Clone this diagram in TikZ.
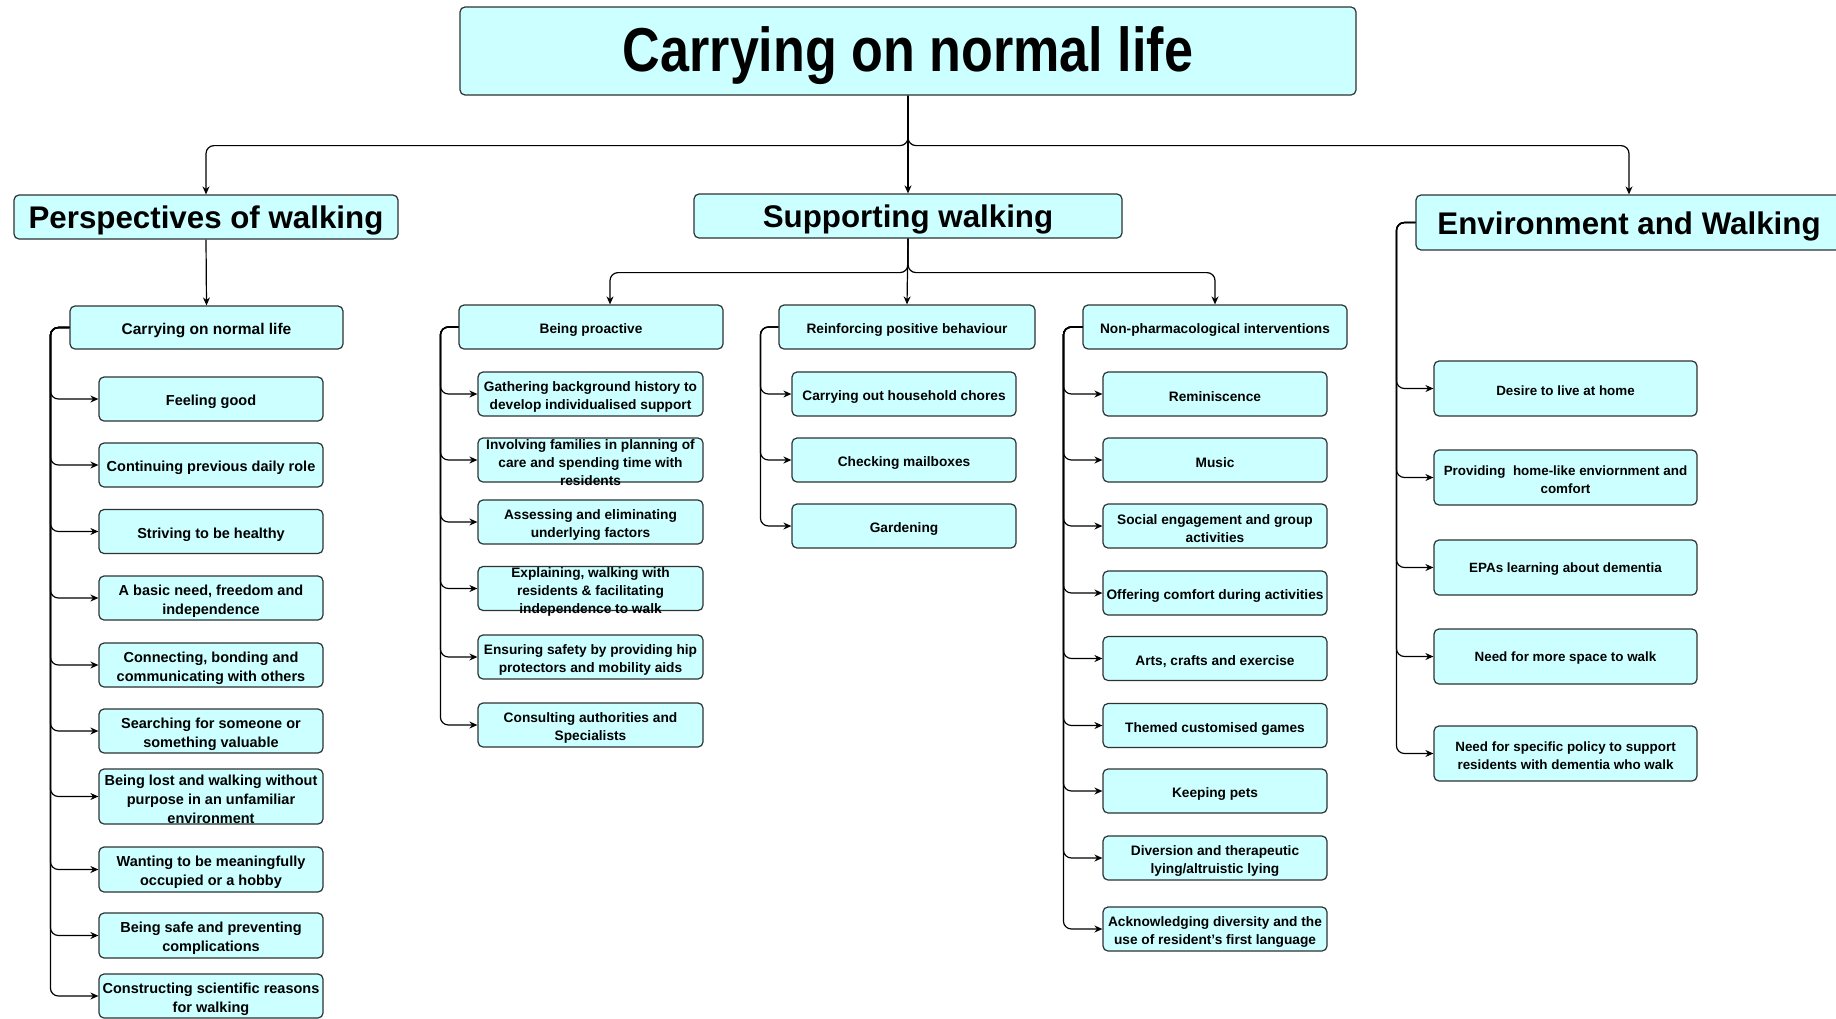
\documentclass[tikz,border=0pt]{standalone}
\usepackage{fontspec}
\setmainfont{Liberation Sans}
\newfontfamily\titlefont[FakeStretch=0.84]{Liberation Sans}
\usetikzlibrary{arrows.meta}
\definecolor{boxfill}{RGB}{204,255,255}
\definecolor{boxline}{RGB}{45,50,50}
\newcommand\rootfont{\titlefont\fontsize{62}{70}\selectfont\bfseries}
\newcommand\headfont{\fontsize{31.3}{35}\selectfont\bfseries}
\newcommand\subfont{\fontsize{15.5}{19}\selectfont\bfseries}
\newcommand\leafA{\fontsize{14.5}{19.2}\selectfont\bfseries}
\newcommand\leafB{\fontsize{13.7}{18}\selectfont\bfseries}
\newcommand\leafC{\fontsize{13.4}{18.2}\selectfont\bfseries}

\begin{document}
\begin{tikzpicture}[x=1pt,y=-1pt,
  box/.style={draw=boxline, fill=boxfill, rounded corners=5pt, line width=1.2pt, inner sep=0pt},
  head/.style={box, minimum height=44pt},
  sub/.style={box, minimum height=44pt},
  pleaf/.style={box, minimum width=224pt, minimum height=44pt},
  sleaf/.style={box, minimum width=224pt, minimum height=44pt},
  eleaf/.style={box, minimum width=263pt, minimum height=55pt},
  tRoot/.style={font=\rootfont, align=center, yshift=-5pt},
  tHead/.style={font=\headfont, align=center, yshift=-3.5pt},
  tSub/.style={font=\subfont, align=center, yshift=-3pt},
  tA/.style={font=\leafA, align=center, yshift=-3pt},
  tB/.style={font=\leafB, align=center, yshift=-3pt},
  tC/.style={font=\leafC, align=center, yshift=-2pt},
  conn/.style={draw=black, line width=1.2pt, rounded corners=8pt,
               -{Stealth[length=8pt,width=7pt]}}
]
\useasboundingbox (0,0) rectangle (1836,1018);
\clip (0,0) rectangle (1836,1018);

% root and the three themes
\node[box, minimum width=896pt, minimum height=88pt,
      label={[tRoot]center:{Carrying on normal life}}] (root) at (908,51) {};
\node[head, minimum width=384pt, label={[tHead]center:{Perspectives of walking}}] (persp) at (206,217) {};
\node[head, minimum width=428pt, label={[tHead]center:{Supporting walking}}] (sup) at (908,216) {};
\node[head, minimum width=426pt, minimum height=55pt,
      label={[tHead]center:{Environment and Walking}}] (env) at (1629,222.5) {};

% sub-themes
\node[sub, minimum width=273pt, minimum height=43pt, label={[tSub]center:{Carrying on normal life}}] (cnl) at (206.5,327.5) {};
\node[sub, minimum width=264pt, label={[tB]center:{Being proactive}}] (bp) at (591,327) {};
\node[sub, minimum width=256pt, label={[tB]center:{Reinforcing positive behaviour}}] (rpb) at (907,327) {};
\node[sub, minimum width=264pt, label={[tB]center:{Non-pharmacological interventions}}] (npi) at (1215,327) {};

% Perspectives of walking
\node[pleaf, label={[tA]center:{Feeling good}}] (p1) at (211,399) {};
\node[pleaf, label={[tA]center:{Continuing previous daily role}}] (p2) at (211,465) {};
\node[pleaf, label={[tA]center:{Striving to be healthy}}] (p3) at (211,531.5) {};
\node[pleaf, label={[tA]center:{A basic need, freedom and\\independence}}] (p4) at (211,598) {};
\node[pleaf, label={[tA]center:{Connecting, bonding and\\communicating with others}}] (p5) at (211,665) {};
\node[pleaf, label={[tA]center:{Searching for someone or\\something valuable}}] (p6) at (211,731) {};
\node[pleaf, minimum height=55pt, label={[tA]center:{Being lost and walking without\\purpose in an unfamiliar\\environment}}] (p7) at (211,796.5) {};
\node[pleaf, minimum height=45pt, label={[tA]center:{Wanting to be meaningfully\\occupied or a hobby}}] (p8) at (211,869.5) {};
\node[pleaf, minimum height=45pt, label={[tA]center:{Being safe and preventing\\complications}}] (p9) at (211,935.5) {};
\node[pleaf, label={[tA]center:{Constructing scientific reasons\\for walking}}] (p10) at (211,996) {};

% Being proactive
\node[sleaf, minimum width=225pt, label={[tB]center:{Gathering background history to\\develop individualised support}}] (b1) at (590.5,394) {};
\node[sleaf, minimum width=225pt, label={[tB]center:{Involving families in planning of\\care and spending time with\\residents}}] (b2) at (590.5,460) {};
\node[sleaf, minimum width=225pt, label={[tB]center:{Assessing and eliminating\\underlying factors}}] (b3) at (590.5,522) {};
\node[sleaf, minimum width=225pt, label={[tB]center:{Explaining, walking with\\residents \& facilitating\\independence to walk}}] (b4) at (590.5,588.5) {};
\node[sleaf, minimum width=225pt, label={[tB]center:{Ensuring safety by providing hip\\protectors and mobility aids}}] (b5) at (590.5,657) {};
\node[sleaf, minimum width=225pt, label={[tB]center:{Consulting authorities and\\Specialists}}] (b6) at (590.5,725) {};

% Reinforcing positive behaviour
\node[sleaf, label={[tB]center:{Carrying out household chores}}] (r1) at (904,394) {};
\node[sleaf, label={[tB]center:{Checking mailboxes}}] (r2) at (904,460) {};
\node[sleaf, label={[tB]center:{Gardening}}] (r3) at (904,526) {};

% Non-pharmacological interventions
\node[sleaf, label={[tB]center:{Reminiscence}}] (n1) at (1215,394) {};
\node[sleaf, label={[tB]center:{Music}}] (n2) at (1215,460) {};
\node[sleaf, label={[tB]center:{Social engagement and group\\activities}}] (n3) at (1215,526) {};
\node[sleaf, label={[tB]center:{Offering comfort during activities}}] (n4) at (1215,593) {};
\node[sleaf, label={[tB]center:{Arts, crafts and exercise}}] (n5) at (1215,658.5) {};
\node[sleaf, label={[tB]center:{Themed customised games}}] (n6) at (1215,725.5) {};
\node[sleaf, label={[tB]center:{Keeping pets}}] (n7) at (1215,791) {};
\node[sleaf, label={[tB]center:{Diversion and therapeutic\\lying/altruistic lying}}] (n8) at (1215,858) {};
\node[sleaf, label={[tB]center:{Acknowledging diversity and the\\use of resident's first language}}] (n9) at (1215,929) {};

% Environment and Walking
\node[eleaf, label={[tC]center:{Desire to live at home}}] (e1) at (1565.5,388.5) {};
\node[eleaf, label={[tC]center:{Providing\ \ home-like enviornment and\\comfort}}] (e2) at (1565.5,477.5) {};
\node[eleaf, label={[tC]center:{EPAs learning about dementia}}] (e3) at (1565.5,567.5) {};
\node[eleaf, label={[tC]center:{Need for more space to walk}}] (e4) at (1565.5,656.5) {};
\node[eleaf, label={[tC]center:{Need for specific policy to support\\residents with dementia who walk}}] (e5) at (1565.5,753.5) {};

% connectors from the root
\draw[conn] (root.south) -- ++(0,50) -| (persp.north);
\draw[conn] (root.south) -- ++(0,50) -| (env.north);
\draw[conn] (root.south) -- (sup.north);

% connectors to the sub-themes
\draw[conn] (persp.south) -- (cnl.north);
\draw[conn] (sup.south) -- ++(0,34) -| ([xshift=19pt]bp.north);
\draw[conn] (sup.south) -- (rpb.north);
\draw[conn] (sup.south) -- ++(0,34) -| (npi.north);

% side brackets to the leaves
\foreach \c in {p1,p2,p3,p4,p5,p6,p7,p8,p9,p10}
  \draw[conn] (cnl.west) -- ++(-19,0) |- (\c.west);
\foreach \c in {b1,b2,b3,b4,b5,b6}
  \draw[conn] (bp.west) -- ++(-18,0) |- (\c.west);
\foreach \c in {r1,r2,r3}
  \draw[conn] (rpb.west) -- ++(-18,0) |- (\c.west);
\foreach \c in {n1,n2,n3,n4,n5,n6,n7,n8,n9}
  \draw[conn] (npi.west) -- ++(-19,0) |- (\c.west);
\foreach \c in {e1,e2,e3,e4,e5}
  \draw[conn] (env.west) -- ++(-19,0) |- (\c.west);
\end{tikzpicture}
\end{document}
